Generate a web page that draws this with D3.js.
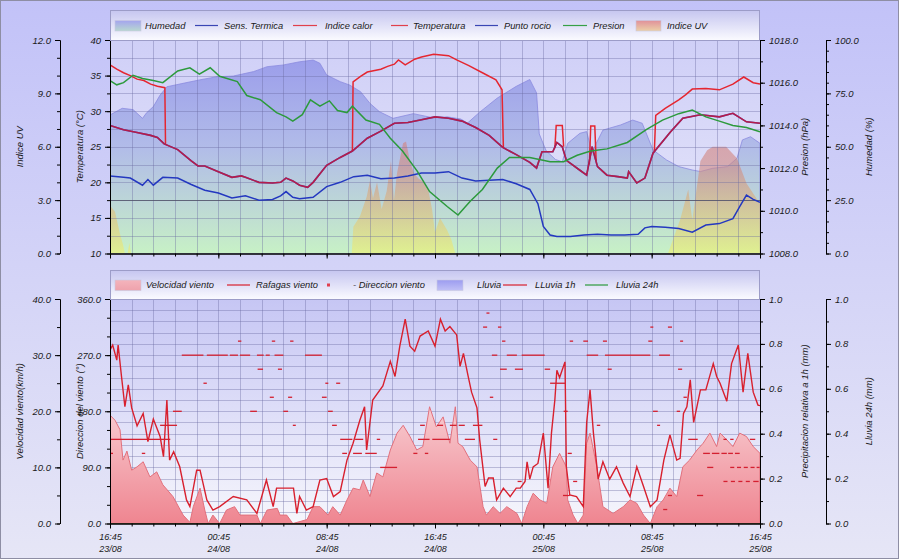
<!DOCTYPE html>
<html>
<head>
<meta charset="utf-8">
<script src="https://cdn.jsdelivr.net/npm/d3@7"></script>
<style>
  body { margin: 0; background: #fff; }
  svg text { font-family: "Liberation Sans", Arial, sans-serif; font-style: italic; fill: #1a1a1a; }
  .ax text { font-size: 9.5px; }
  .ax path, .ax line { stroke: #000; }
  .tit { font-size: 9.5px; }
  .leg { font-size: 9.3px; }
</style>
</head>
<body>
<script>
// hours since 16:45 23/08 -> value
const humedad = [[0,64.9],[0.9,68.0],[1.7,67.4],[2.4,63.3],[2.7,65.9],[3.2,68.8],[3.7,74.2],[4.2,78.1],[5.4,79.7],[6.6,81.3],[7.9,82.8],[9.1,83.1],[10.6,85.2],[11.6,87.5],[12.8,88.3],[14,89.8],[15,90.6],[15.5,89.1],[16,83.6],[17,80.5],[17.7,78.9],[18.5,75.8],[19.2,70.3],[19.9,66.4],[20.9,63.3],[22.4,65.5],[23.9,63.5],[24.9,64.0],[25.9,63.0],[26.4,61.1],[27.3,66.2],[28.6,72.8],[30,78.3],[31,81.5],[31.5,75.2],[31.7,56.0],[32.2,48.2],[32.9,44.0],[33.4,43.0],[33.8,51.6],[34.7,56.3],[35.2,57.1],[35.6,47.0],[35.9,51.5],[36.4,57.8],[37.7,60.2],[38.6,62.5],[39.3,61.0],[40.1,48.5],[41.1,43.8],[42,40.7],[43,39.1],[43.6,38.4],[44.5,39.9],[45.6,40.7],[46.3,44.6],[46.7,53.2],[47.3,54.7],[48,51.6]];

const indiceUV = [[0,2.7],[0.37,2.35],[0.74,1.1],[0.96,0.5],[1.1,0],[1.3,0],[1.43,0.6],[1.55,0],[17.85,0],[17.97,1.5],[18.46,2.1],[18.96,3.2],[19.2,4.1],[19.42,3.1],[19.72,4.0],[20.06,2.5],[20.43,3.5],[20.75,5.2],[20.97,3.0],[21.19,4.5],[21.64,6.2],[21.86,6.3],[22.15,5.2],[22.45,4.5],[22.8,4.2],[23.2,4.0],[23.5,3.6],[23.78,2.5],[24,1.2],[24.37,2.0],[24.9,1.3],[25.2,0.8],[25.5,0],[41.2,0],[42.1,1.9],[42.7,3.6],[43,1.9],[43.6,5.2],[44.1,5.8],[44.5,6.0],[45.5,6.0],[46.3,5.35],[47,3.95],[48,2.8]];

const temperatura = [[0,28.0],[1,27.4],[2,27.0],[3,26.6],[3.5,26.3],[4,25.4],[5,24.6],[6,23.0],[6.5,22.3],[7,22.3],[8,21.5],[9,20.7],[9.7,20.9],[10,20.7],[11,20.0],[12,19.9],[12.6,20.0],[13,20.6],[13.5,20.2],[14,19.6],[14.6,19.3],[15,20.0],[16,22.4],[17,23.5],[17.9,24.4],[19,26.2],[20,27.2],[21,28.3],[22,28.4],[23,28.8],[24,29.2],[25,29.0],[26,28.6],[27,27.7],[28,26.6],[29,24.9],[30,23.9],[31,22.8],[31.5,22.0],[31.9,24.3],[32.7,24.3],[33,25.6],[33.4,25.0],[33.7,23.1],[34.7,21.7],[35.2,21.0],[35.6,25.0],[36,22.2],[36.7,21.0],[37.5,20.8],[38.2,20.6],[38.3,21.5],[38.9,19.9],[39.5,20.6],[40.1,24.1],[41.4,27.1],[42.3,29.0],[43.6,29.5],[45,29.2],[46,29.7],[47,28.5],[48,28.3]];

// wind chill equals the air temperature in this range
const sensTermica = temperatura;

const indiceCalor = [[0,36.5],[0.5,35.9],[1,35.4],[1.5,35.0],[2,34.5],[2.5,34.3],[3,33.8],[3.5,33.5],[4.05,33.3],[4.1,25.3], null,
  [17.9,24.4],[17.95,34.1],[18.5,34.9],[19,35.5],[20,35.9],[20.5,36.3],[21,36.6],[21.3,37.2],[21.8,36.5],[22.5,37.3],[23,37.6],[23.9,38.0],[25,37.8],[25.6,37.2],[26.5,36.4],[27.5,35.4],[28.5,34.4],[28.95,33.0],[29.05,24.9], null,
  [32.85,24.8],[32.95,28.0],[33.4,28.0],[33.5,25.0], null,
  [35.4,22.5],[35.5,27.9],[35.8,27.9],[35.9,23.0], null,
  [40.2,24.4],[40.3,29.4],[41,30.4],[42,31.6],[42.5,32.3],[43,33.1],[44,33.2],[45,33.0],[46,33.8],[46.8,34.8],[47.5,34.0],[48,33.8]];

const puntoRocio = [[0,20.9],[1,20.7],[1.5,20.6],[2.4,19.6],[2.8,20.4],[3.2,19.6],[3.9,20.7],[5,20.6],[6,19.7],[7,18.9],[8,18.5],[9,17.8],[10,18.1],[11,17.5],[12,17.6],[12.6,18.1],[13,18.7],[13.5,17.9],[14,17.7],[15,17.9],[16,19.4],[17,20.0],[18,20.8],[19,21.0],[20,20.5],[21,20.6],[22,20.9],[23,21.3],[24,21.3],[25,21.5],[26,20.6],[27,20.2],[28,20.3],[29,20.4],[30,19.8],[31,19.0],[31.6,17.0],[32,13.8],[32.5,12.6],[33,12.4],[34,12.4],[35,12.6],[36,12.7],[37,12.6],[38,12.6],[39,12.7],[39.5,13.6],[40,13.8],[41,13.7],[42,13.5],[43,13.0],[44,14.0],[45,14.2],[46,14.9],[46.5,16.6],[47,18.2],[47.5,17.6],[48,17.2]];

const presion = [[0,1016.1],[0.5,1015.9],[1,1016.0],[1.7,1016.35],[2.4,1016.2],[3.2,1016.1],[3.9,1016.0],[5,1016.55],[5.9,1016.7],[6.6,1016.4],[7.4,1016.7],[8.1,1016.3],[9.4,1016.05],[10.1,1015.4],[11.1,1015.2],[12.3,1014.6],[13,1014.4],[13.5,1014.2],[14.2,1014.5],[14.8,1015.2],[15.5,1014.9],[16.2,1015.15],[16.8,1014.7],[17.5,1014.6],[17.9,1014.9],[18.9,1014.25],[19.9,1014.05],[20.7,1013.4],[21.6,1012.8],[22.7,1011.85],[23.6,1010.9],[24.9,1010.2],[25.7,1009.8],[26.6,1010.45],[27.5,1011.0],[28.6,1012.0],[29.5,1012.5],[31,1012.5],[32.5,1012.3],[33.5,1012.3],[34.5,1012.6],[35.5,1012.8],[36.7,1012.9],[38.2,1013.2],[39.6,1013.8],[40.8,1014.25],[42,1014.55],[43,1014.72],[44,1014.4],[45,1014.2],[46,1014.0],[47,1013.9],[48,1013.7]];

const velocidadViento = [[0,19.3],[0.37,18.4],[0.74,16.7],[0.96,11.3],[1.25,12.9],[1.6,9.5],[2,10.1],[2.45,11.0],[2.95,8.3],[3.45,9.2],[3.9,6.9],[4.65,4.8],[5.4,1.5],[5.9,0.2],[6.15,3.0],[6.65,6.3],[7,2.4],[7.25,0],[7.6,1.5],[8.1,0],[8.6,2.4],[9.2,3.0],[9.6,1.5],[10.85,1.5],[11.1,0],[11.6,2.4],[12.35,2.7],[12.55,1.5],[13.05,1.5],[13.5,0],[14.55,0.7],[15,3.0],[15.5,3.0],[16.1,1.5],[16.45,3.0],[17,1.5],[17.5,4.2],[17.95,6.3],[18.45,6.0],[18.7,7.75],[19.2,4.8],[19.7,9.0],[20.15,8.3],[20.7,13.1],[21.2,16.1],[21.65,17.5],[22.15,15.5],[22.65,13.1],[23.1,13.7],[23.6,20.8],[24.1,17.2],[24.6,19.0],[25.1,14.3],[25.5,20.8],[25.7,14.3],[26.05,13.7],[26.6,11.3],[27.1,10.1],[27.55,3.0],[27.8,1.5],[28.3,3.0],[28.8,1.8],[29.3,3.0],[30.05,1.8],[30.4,0],[30.8,3.0],[31.25,5.4],[31.75,4.2],[32.25,3.6],[32.7,10.1],[33.2,12.5],[33.7,10.1],[33.8,4.2],[34.2,1.5],[34.55,0],[34.95,1.5],[35.2,14.3],[35.45,16.1],[35.95,10.1],[36.4,3.0],[37.15,1.8],[37.9,3.0],[38.4,4.2],[38.9,3.6],[39.4,1.5],[39.9,0],[40.4,3.0],[40.85,4.2],[41.35,6.3],[41.85,4.8],[42.3,10.1],[42.8,11.3],[43.35,13.1],[43.8,14.3],[44.3,16.1],[44.8,13.7],[45.05,16.1],[45.55,14.9],[46,13.7],[46.5,16.1],[47,15.5],[47.5,13.7],[48,12.5]];

const rafagas = [[0,30.9],[0.2,31.8],[0.5,29.1],[0.6,31.8],[0.85,26.2],[1.1,20.8],[1.35,24.7],[1.6,20.6],[2,17.4],[2.45,19.6],[2.8,14.6],[3.2,18.6],[3.7,15.5],[3.95,11.9],[4.2,22.0],[4.4,11.3],[4.7,12.8],[5.15,10.1],[5.65,4.2],[5.9,3.0],[6.4,9.5],[6.65,9.5],[7.15,4.2],[7.6,2.4],[8.1,3.0],[9.1,4.8],[10.1,4.2],[10.85,1.8],[11.55,7.75],[12.05,3.0],[12.3,6.3],[13.55,6.3],[13.8,1.8],[14,4.8],[14.5,2.4],[15,3.0],[15.5,7.75],[16,8.0],[16.5,4.8],[17,5.7],[17.5,11.3],[17.95,14.3],[18.45,18.4],[18.8,20.8],[18.95,13.1],[19.4,22.0],[20.15,24.5],[20.7,28.9],[21.05,26.2],[21.4,31.6],[21.8,36.4],[22.15,31.6],[22.5,30.7],[22.9,33.4],[23.5,34.3],[24,31.6],[24.4,36.4],[24.75,34.3],[25.1,35.1],[25.6,33.6],[25.85,28.0],[26.1,30.3],[26.45,26.2],[26.7,23.4],[27.1,20.6],[27.3,14.9],[27.7,6.6],[27.95,8.1],[28.3,8.1],[28.55,4.2],[29.05,6.3],[29.55,4.8],[30,6.3],[30.3,6.3],[30.65,7.5],[30.8,11.0],[31,7.9],[31.25,10.1],[31.6,10.7],[32,16.1],[32.35,6.3],[32.6,16.1],[32.85,22.0],[33,27.3],[33.2,26.0],[33.6,28.8],[33.7,10.1],[33.95,5.1],[34.45,4.8],[34.95,3.0],[35.2,18.0],[35.45,23.8],[35.7,16.1],[36.05,7.9],[36.4,11.0],[36.9,7.9],[37.4,10.1],[37.9,7.2],[38.4,4.8],[38.9,10.1],[39.4,6.6],[39.9,3.0],[40.4,4.2],[40.9,11.3],[41.35,15.8],[41.85,11.3],[42.1,11.6],[42.35,19.6],[42.6,20.8],[42.85,25.6],[43.1,18.0],[43.6,23.8],[44,23.8],[44.55,28.5],[44.8,26.2],[45.05,25.0],[45.55,21.8],[45.9,28.5],[46.4,31.8],[46.75,23.4],[47.1,30.3],[47.5,23.4],[47.85,21.1],[48,21.0]];

// wind direction samples: [from hour, to hour, degrees]
const direccionViento = [
  [5.3,6.9,270],[7.15,8.7,270],[8.85,9.45,270],[9.6,10.35,270],[10.85,11.35,270],[11.5,11.8,270],[12.15,12.8,270],[14.4,15.65,270],[28.2,28.6,270],[29.3,30.05,270],[30.4,32.1,270],[35.2,36.05,270],[36.55,39.9,270],[40.55,41.35,270],
  [9.45,9.7,292.5],[11.95,12.2,292.5],[13.3,13.55,292.5],[28.95,29.2,292.5],[33.95,34.2,292.5],[34.95,35.3,292.5],[36.4,36.7,292.5],[39.75,40.05,292.5],[42.1,42.3,292.5],
  [27.55,27.85,315],[28.65,28.9,315],[39.9,40.1,315],[41.2,41.5,315],
  [27.8,27.95,337.5],
  [10.9,11.3,247.5],[12.4,12.7,247.5],[28.8,29.3,247.5],[29.9,30.5,247.5],[32.1,32.5,247.5],[36.75,37.05,247.5],[41.95,42.25,247.5],
  [6.9,7.15,225],[15.9,16.1,225],[16.7,17.0,225],[32.5,33.6,225],
  [11.8,12.1,202.5],[13.15,13.45,202.5],[15.65,16.0,202.5],[28.05,28.3,202.5],[42.35,42.6,202.5],
  [4.65,5.3,180],[10.35,10.85,180],[12.8,13.15,180],[16.1,16.45,180],[33.5,33.8,180],[40.1,40.45,180],[41.85,42.1,180],
  [3.7,4.95,157.5],[13.5,13.65,157.5],[16.4,16.75,157.5],[22.9,23.25,157.5],[24.15,24.6,157.5],[25.1,25.6,157.5],[25.75,26.2,157.5],[26.8,27.5,157.5],[35.95,36.2,157.5],[40.4,40.6,157.5],
  [0,4.45,135],[17,17.9,135],[18.1,18.7,135],[19.7,19.95,135],[22.75,23.6,135],[23.8,25.1,135],[26.2,26.95,135],[28.3,28.6,135],[42.7,43.4,135],[45.3,45.55,135],[45.8,46.05,135],[47.25,47.65,135],
  [0,0.15,112.5],[2.35,2.6,112.5],[17.15,17.5,112.5],[17.95,18.6,112.5],[18.85,19.7,112.5],[22.4,22.7,112.5],[23.25,23.5,112.5],[33.8,34.1,112.5],[43.8,44.3,112.5],[44.45,45.0,112.5],[45.15,45.55,112.5],[45.65,46.0,112.5],[46.15,46.5,112.5],
  [19.95,21.2,90],[44.1,44.55,90],[45.8,46.1,90],[46.3,46.6,90],[46.8,47.1,90],[47.3,47.6,90],[47.75,47.95,90],
  [30.1,30.4,67.5],[34.2,34.5,67.5],[45.3,45.6,67.5],[45.85,46.15,67.5],[46.4,46.7,67.5],[46.95,47.25,67.5],[47.5,47.9,67.5],
  [33.45,33.95,45],[41.2,41.5,45],[43.35,43.8,45],
  [40.85,41.15,22.5]
];

// no rain in the period
const lluvia = [[0,0],[48,0]];
const lluvia1h = [[0,0],[48,0]];
const lluvia24h = [[0,0],[48,0]];

const horaLabels = ["16:45", "00:45", "08:45", "16:45", "00:45", "08:45", "16:45"];
const fechaLabels = ["23/08", "24/08", "24/08", "24/08", "25/08", "25/08", "25/08"];

const width = 900,
  height = 560;
const left = 110,
  right = 760,
  top1 = 40,
  bot1 = 253.5,
  top2 = 299,
  bot2 = 523.5;

const svg = d3.select("body")
  .append("svg")
  .attr("width", width)
  .attr("height", height);

const defs = svg.append("defs");

// vertical gradient helper
function gradient(id, stops, y1, y2) {
  const g = defs.append("linearGradient")
    .attr("id", id)
    .attr("x1", 0).attr("x2", 0);
  if (y1 !== undefined) {
    g.attr("gradientUnits", "userSpaceOnUse").attr("y1", y1).attr("y2", y2);
  } else {
    g.attr("y1", 0).attr("y2", 1);
  }
  stops.forEach(s => g.append("stop")
    .attr("offset", s[0])
    .attr("stop-color", s[1])
    .attr("stop-opacity", s[2] === undefined ? 1 : s[2]));
}

gradient("bg", [[0, "#c2c2f8"], [1, "#e6e6f6"]], 0, height);
gradient("plot1", [[0, "#cfcff7"], [1, "#e6e6fa"]], top1, bot1);
gradient("plot2", [[0, "#c6c6f4"], [1, "#f6f6fc"]], top2, bot2);
gradient("legbox", [[0, "#c6c6f0"], [1, "#fbfbff"]]);
gradient("hum", [[0, "#9090ea", 0.9], [0.5, "#aab6e6", 0.85], [1, "#c4f2c0", 0.9]], top1, bot1);
gradient("uv", [[0, "#e05a64", 0.6], [0.6, "#d08a82", 0.6], [1, "#eef070", 0.62]], top1, bot1);
gradient("viento", [[0, "#fdeef0"], [0.45, "#f8d0d5"], [1, "#ef8590"]], top2, bot2);
gradient("humLeg", [[0, "#a4a4ee"], [1, "#b8d8d0"]]);
gradient("uvLeg", [[0, "#e0909a"], [1, "#ecd0a8"]]);
gradient("vientoLeg", [[0, "#f4b4bc"], [1, "#eea2ac"]]);
gradient("lluviaLeg", [[0, "#9c9cf0"], [1, "#c0c0f6"]]);

defs.append("clipPath").attr("id", "clip1")
  .append("rect").attr("x", left).attr("y", top1).attr("width", right - left).attr("height", bot1 - top1);
defs.append("clipPath").attr("id", "clip2")
  .append("rect").attr("x", left).attr("y", top2).attr("width", right - left).attr("height", bot2 - top2);

// page background and frame
svg.append("rect")
  .attr("x", 0.5).attr("y", 0.5)
  .attr("width", width - 2).attr("height", height - 2)
  .attr("fill", "url(#bg)")
  .attr("stroke", "#8e8ea4");

// scales
const x = d3.scaleLinear().domain([0, 48]).range([left, right]);
const yTemp = d3.scaleLinear().domain([10, 40]).range([bot1, top1]);
const yUV = d3.scaleLinear().domain([0, 12]).range([bot1, top1]);
const yPres = d3.scaleLinear().domain([1008, 1018]).range([bot1, top1]);
const yHum = d3.scaleLinear().domain([0, 100]).range([bot1, top1]);
const yViento = d3.scaleLinear().domain([0, 40]).range([bot2, top2]);
const yDir = d3.scaleLinear().domain([0, 360]).range([bot2, top2]);
const yLluvia1h = d3.scaleLinear().domain([0, 1]).range([bot2, top2]);
const yLluvia24h = d3.scaleLinear().domain([0, 1]).range([bot2, top2]);

const steps = (a, b, s) => d3.range(0, Math.round((b - a) / s) + 1).map(i => +(a + i * s).toFixed(3));
const gridX = steps(0, 48, 1.6);

// ---------- top panel ----------
svg.append("rect")
  .attr("x", left).attr("y", top1)
  .attr("width", right - left).attr("height", bot1 - top1)
  .attr("fill", "url(#plot1)");

const g1 = svg.append("g").attr("clip-path", "url(#clip1)");

g1.append("path")
  .datum(humedad)
  .attr("fill", "url(#hum)")
  .attr("stroke", "#8c8ce0")
  .attr("stroke-width", 0.8)
  .attr("d", d3.area().x(d => x(d[0])).y0(yHum(0)).y1(d => yHum(d[1])));

g1.append("path")
  .datum(indiceUV)
  .attr("fill", "url(#uv)")
  .attr("d", d3.area().x(d => x(d[0])).y0(yUV(0)).y1(d => yUV(d[1])));

// grid over the areas
const grid1 = g1.append("g")
  .attr("stroke", "#6a6aa0")
  .attr("stroke-opacity", 0.38)
  .attr("shape-rendering", "crispEdges");
grid1.selectAll("line.v")
  .data(gridX)
  .join("line")
  .attr("class", "v")
  .attr("x1", d => Math.round(x(d)) + 0.5).attr("x2", d => Math.round(x(d)) + 0.5)
  .attr("y1", top1).attr("y2", bot1);
grid1.selectAll("line.h")
  .data(steps(10, 40, 2.5))
  .join("line")
  .attr("class", "h")
  .attr("x1", left).attr("x2", right)
  .attr("y1", d => Math.round(yTemp(d)) + 0.5).attr("y2", d => Math.round(yTemp(d)) + 0.5)
  .attr("stroke-opacity", d => d === 17.5 ? 0.85 : null)
  .attr("stroke", d => d === 17.5 ? "#50506a" : null);

const lineT = d3.line()
  .defined(d => d !== null)
  .x(d => x(d[0]))
  .y(d => yTemp(d[1]));

g1.append("path")
  .datum(indiceCalor)
  .attr("fill", "none")
  .attr("stroke", "#e52630")
  .attr("stroke-width", 1.5)
  .attr("d", lineT);

g1.append("path")
  .datum(sensTermica)
  .attr("fill", "none")
  .attr("stroke", "#2a3cc0")
  .attr("stroke-width", 1.6)
  .attr("d", lineT);

g1.append("path")
  .datum(temperatura)
  .attr("fill", "none")
  .attr("stroke", "#d8142c")
  .attr("stroke-opacity", 0.8)
  .attr("stroke-width", 1.6)
  .attr("d", lineT);

g1.append("path")
  .datum(puntoRocio)
  .attr("fill", "none")
  .attr("stroke", "#2438c0")
  .attr("stroke-width", 1.5)
  .attr("d", lineT);

g1.append("path")
  .datum(presion)
  .attr("fill", "none")
  .attr("stroke", "#2c9a3c")
  .attr("stroke-width", 1.5)
  .attr("d", d3.line().x(d => x(d[0])).y(d => yPres(d[1])));

// ---------- bottom panel ----------
svg.append("rect")
  .attr("x", left).attr("y", top2)
  .attr("width", right - left).attr("height", bot2 - top2)
  .attr("fill", "url(#plot2)");

const g2 = svg.append("g").attr("clip-path", "url(#clip2)");

const grid2 = g2.append("g")
  .attr("stroke", "#6a6aa0")
  .attr("stroke-opacity", 0.38)
  .attr("shape-rendering", "crispEdges");
grid2.selectAll("line.v")
  .data(gridX)
  .join("line")
  .attr("class", "v")
  .attr("x1", d => Math.round(x(d)) + 0.5).attr("x2", d => Math.round(x(d)) + 0.5)
  .attr("y1", top2).attr("y2", bot2);
grid2.selectAll("line.h")
  .data(steps(0, 360, 18))
  .join("line")
  .attr("class", "h")
  .attr("x1", left).attr("x2", right)
  .attr("y1", d => Math.round(yDir(d)) + 0.5).attr("y2", d => Math.round(yDir(d)) + 0.5);

g2.append("path")
  .datum(velocidadViento)
  .attr("fill", "url(#viento)")
  .attr("stroke", "#e2707c")
  .attr("stroke-width", 1)
  .attr("d", d3.area().x(d => x(d[0])).y0(yViento(0)).y1(d => yViento(d[1])));

g2.append("path")
  .datum(rafagas)
  .attr("fill", "none")
  .attr("stroke", "#d8202e")
  .attr("stroke-width", 1.4)
  .attr("d", d3.line().x(d => x(d[0])).y(d => yViento(d[1])));

g2.selectAll("rect.dir")
  .data(direccionViento)
  .join("rect")
  .attr("class", "dir")
  .attr("x", d => x(d[0]))
  .attr("width", d => Math.max(3, x(d[1]) - x(d[0])))
  .attr("y", d => yDir(d[2]) - 0.6)
  .attr("height", 1.3)
  .attr("fill", "#d42030");

// rain series (all zero)
g2.append("path")
  .datum(lluvia)
  .attr("fill", "#9c9cf0")
  .attr("d", d3.area().x(d => x(d[0])).y0(yLluvia1h(0)).y1(d => yLluvia1h(d[1])));
g2.append("path")
  .datum(lluvia1h)
  .attr("fill", "none").attr("stroke", "#d8202e")
  .attr("d", d3.line().x(d => x(d[0])).y(d => yLluvia1h(d[1])));
g2.append("path")
  .datum(lluvia24h)
  .attr("fill", "none").attr("stroke", "#2c9a3c")
  .attr("d", d3.line().x(d => x(d[0])).y(d => yLluvia24h(d[1])));

// ---------- axes ----------
function yAxis(scale, xPos, side, major, minor, fmt) {
  const make = side === "left" ? d3.axisLeft : d3.axisRight;
  svg.append("g")
    .attr("class", "ax")
    .attr("transform", `translate(${xPos},0)`)
    .call(make(scale).tickValues(minor).tickSize(3).tickSizeOuter(0).tickFormat(""));
  svg.append("g")
    .attr("class", "ax")
    .attr("transform", `translate(${xPos},0)`)
    .call(make(scale).tickValues(major).tickSize(5).tickSizeOuter(0).tickPadding(4).tickFormat(d3.format(fmt)));
}

yAxis(yUV, 60, "left", steps(0, 12, 3), steps(0, 12, 1), ".1f");
yAxis(yTemp, left, "left", steps(10, 40, 5), steps(10, 40, 2.5), "d");
yAxis(yPres, right, "right", steps(1008, 1018, 2), steps(1008, 1018, 1), ".1f");
yAxis(yHum, 826, "right", steps(0, 100, 25), steps(0, 100, 5), ".1f");
yAxis(yViento, 60, "left", steps(0, 40, 10), steps(0, 40, 5), ".1f");
yAxis(yDir, left, "left", steps(0, 360, 90), steps(0, 360, 30), ".1f");
yAxis(yLluvia1h, right, "right", steps(0, 1, 0.2), steps(0, 1, 0.1), ".1f");
yAxis(yLluvia24h, 826, "right", steps(0, 1, 0.2), steps(0, 1, 0.1), ".1f");

const majorX = steps(0, 48, 8);

[bot1, bot2].forEach((yPos, i) => {
  svg.append("g")
    .attr("class", "ax")
    .attr("transform", `translate(0,${yPos})`)
    .call(d3.axisBottom(x).tickValues(gridX).tickSize(3).tickSizeOuter(0).tickFormat(""));
  const ax = svg.append("g")
    .attr("class", "ax")
    .attr("transform", `translate(0,${yPos})`)
    .call(d3.axisBottom(x).tickValues(majorX).tickSize(5).tickSizeOuter(0).tickPadding(5)
      .tickFormat((d, j) => i === 1 ? horaLabels[j] : ""));
  if (i === 1) {
    ax.selectAll(".tick")
      .append("text")
      .attr("y", 22.5)
      .attr("dy", "0.71em")
      .attr("text-anchor", "middle")
      .text((d, j) => fechaLabels[j]);
    ax.selectAll("text").style("font-size", "9px");
  }
});

// axis titles
function titulo(txt, cx, cy) {
  svg.append("text")
    .attr("class", "tit")
    .attr("transform", `translate(${cx},${cy}) rotate(-90)`)
    .attr("text-anchor", "middle")
    .attr("dy", "0.35em")
    .text(txt);
}
const mid1 = (top1 + bot1) / 2,
  mid2 = (top2 + bot2) / 2;
titulo("Indice UV", 20, mid1);
titulo("Temperatura (°C)", 80, mid1);
titulo("Presion (hPa)", 805, mid1);
titulo("Humedad (%)", 869, mid1);
titulo("Velocidad viento(km/h)", 20, mid2);
titulo("Direccion del viento (°)", 80, mid2);
titulo("Precipitacion relativa a 1h (mm)", 805, mid2);
titulo("Lluvia 24h (mm)", 869, mid2);

// ---------- legends ----------
function legend(y0, h, items) {
  const g = svg.append("g");
  g.append("rect")
    .attr("x", left + 0.5).attr("y", y0 + 0.5)
    .attr("width", right - left - 1).attr("height", h)
    .attr("fill", "url(#legbox)")
    .attr("stroke", "#9c9cc8");
  const cy = y0 + h / 2 + 0.5;
  items.forEach(it => {
    if (it.kind === "area") {
      g.append("rect")
        .attr("x", it.x).attr("y", cy - 5)
        .attr("width", it.w).attr("height", 10.5)
        .attr("fill", it.color)
        .attr("stroke", "#c8c8e0").attr("stroke-width", 0.6);
    } else if (it.kind === "line") {
      g.append("line")
        .attr("x1", it.x).attr("x2", it.x + it.w)
        .attr("y1", cy).attr("y2", cy)
        .attr("stroke", it.color).attr("stroke-width", 1.2);
    } else {
      g.append("rect")
        .attr("x", it.x).attr("y", cy - 1.5)
        .attr("width", 3).attr("height", 3)
        .attr("fill", it.color);
    }
    g.append("text")
      .attr("class", "leg")
      .attr("x", it.tx).attr("y", cy)
      .attr("dy", "0.35em")
      .text(it.label);
  });
}

legend(10, 30, [
  { kind: "area", color: "url(#humLeg)", x: 115, w: 26, label: "Humedad", tx: 145 },
  { kind: "line", color: "#3a46b4", x: 195, w: 23, label: "Sens. Termica", tx: 224 },
  { kind: "line", color: "#e0404c", x: 293, w: 24, label: "Indice calor", tx: 325 },
  { kind: "line", color: "#e0404c", x: 391, w: 17, label: "Temperatura", tx: 413 },
  { kind: "line", color: "#3a46b4", x: 475, w: 23, label: "Punto rocio", tx: 504 },
  { kind: "line", color: "#36a046", x: 563, w: 24, label: "Presion", tx: 593 },
  { kind: "area", color: "url(#uvLeg)", x: 636, w: 25, label: "Indice UV", tx: 667 }
]);

legend(270, 29, [
  { kind: "area", color: "url(#vientoLeg)", x: 115, w: 26, label: "Velocidad viento", tx: 146 },
  { kind: "line", color: "#d8202e", x: 227, w: 23, label: "Rafagas viento", tx: 256 },
  { kind: "mark", color: "#e04050", x: 327, label: "- Direccion viento", tx: 353 },
  { kind: "area", color: "url(#lluviaLeg)", x: 437, w: 26, label: "Lluvia", tx: 477 },
  { kind: "line", color: "#d8202e", x: 503, w: 24, label: "LLuvia 1h", tx: 535 },
  { kind: "line", color: "#2c9a3c", x: 585, w: 23, label: "Lluvia 24h", tx: 616 }
]);
</script>
</body>
</html>
